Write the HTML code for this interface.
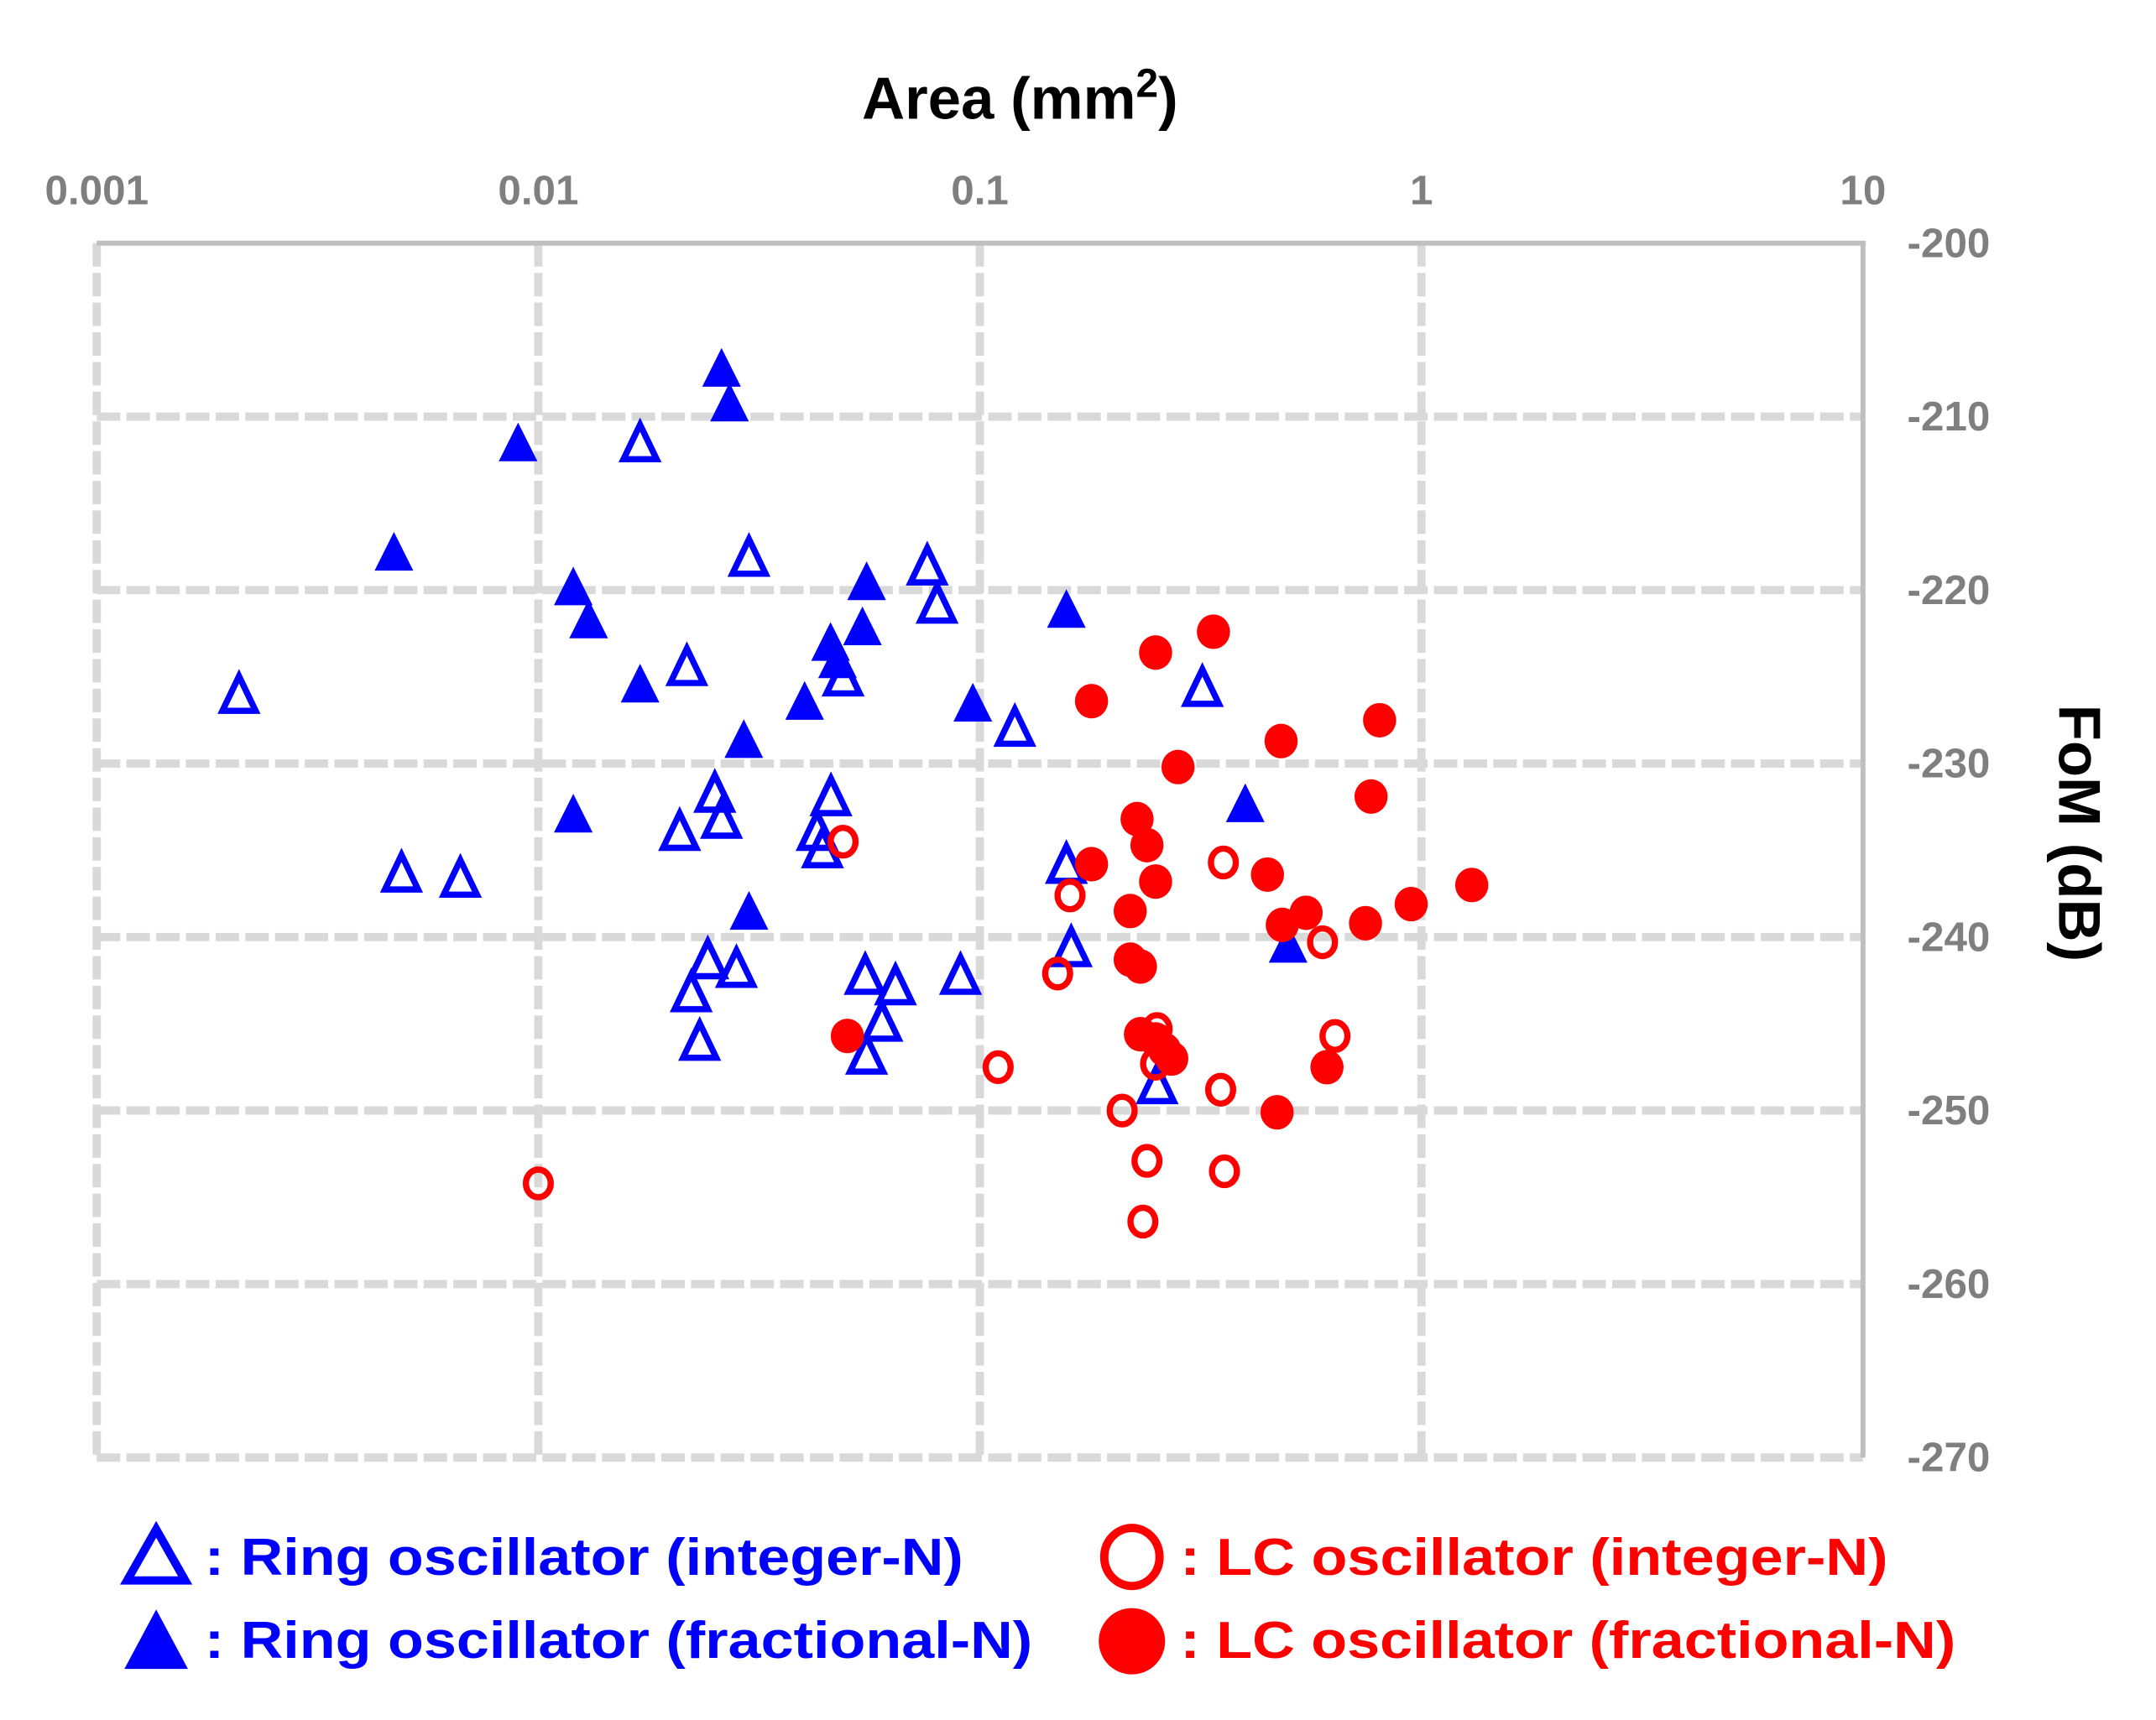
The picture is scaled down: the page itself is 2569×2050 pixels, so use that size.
<!DOCTYPE html>
<html><head><meta charset="utf-8"><style>
html,body{margin:0;padding:0;background:#fff;}
svg{display:block;}
text{font-family:"Liberation Sans",Arial,sans-serif;font-weight:bold;}
</style></head><body>
<svg id="chart" width="2569" height="2050" viewBox="0 0 1560 1245" preserveAspectRatio="none" xmlns="http://www.w3.org/2000/svg">
<g id="grid"></g>
<g id="axes"></g>
<g id="marks"></g>
<text x="738" y="86" text-anchor="middle" font-size="43" fill="#000">Area (mm<tspan font-size="29" dy="-16">2</tspan><tspan dy="16">)</tspan></text>
<text transform="translate(1490,603) rotate(90)" text-anchor="middle" font-size="43" fill="#000">FoM (dB)</text>
<g>
<polygon points="113,1107 92,1144 134,1144" fill="none" stroke="#0000ff" stroke-width="6"/>
<text x="148" y="1140" font-size="38" fill="#0000ff" textLength="549" lengthAdjust="spacingAndGlyphs">: Ring oscillator (integer-N)</text>
<polygon points="113,1165 90,1208 136,1208" fill="#0000ff"/>
<text x="148" y="1200" font-size="38" fill="#0000ff" textLength="599" lengthAdjust="spacingAndGlyphs">: Ring oscillator (fractional-N)</text>
<ellipse cx="819" cy="1127" rx="20" ry="21" fill="none" stroke="#ff0000" stroke-width="6"/>
<text x="854" y="1140" font-size="38" fill="#ff0000" textLength="512" lengthAdjust="spacingAndGlyphs">: LC oscillator (integer-N)</text>
<ellipse cx="819" cy="1188" rx="24" ry="24" fill="#ff0000"/>
<text x="854" y="1200" font-size="38" fill="#ff0000" textLength="561" lengthAdjust="spacingAndGlyphs">: LC oscillator (fractional-N)</text>
</g>
</svg>
<script>
const xTicks = [0.001, 0.01, 0.1, 1, 10];
const xTickLabels = ["0.001", "0.01", "0.1", "1", "10"];
const yTicks = [-200, -210, -220, -230, -240, -250, -260, -270];
const yTickLabels = ["-200", "-210", "-220", "-230", "-240", "-250", "-260", "-270"];

const ringIntArea = [0.0021,0.017,0.030,0.076,0.080,0.0217,0.049,0.120,0.319,0.0251,0.046,0.0209,0.026,0.0428,0.044,0.0049,0.00666,0.157,0.161,0.0242,0.0281,0.0222,0.055,0.0644,0.0904,0.060,0.0232,0.0554,0.252];
const ringIntFoM  = [-226.0,-211.5,-218.1,-218.6,-220.8,-224.4,-225.0,-227.9,-225.6,-231.7,-231.9,-233.9,-233.2,-233.9,-234.9,-236.3,-236.6,-235.8,-240.6,-241.3,-241.8,-243.2,-242.2,-242.8,-242.2,-244.9,-246.0,-246.8,-248.5];

const ringFracArea = [0.026,0.0271,0.009,0.00471,0.012,0.0130,0.0554,0.0542,0.0459,0.0476,0.157,0.017,0.0401,0.0964,0.0292,0.012,0.399,0.030,0.499];
const ringFracFoM  = [-207.2,-209.2,-211.5,-217.8,-219.8,-221.7,-219.5,-222.1,-223.0,-224.0,-221.1,-225.4,-226.4,-226.5,-228.6,-232.9,-232.3,-238.5,-240.4];

const lcIntArea = [0.049,0.356,0.160,0.597,0.150,0.637,0.252,0.110,0.250,0.351,0.210,0.239,0.358,0.234,0.010];
const lcIntFoM  = [-234.5,-235.7,-237.6,-240.3,-242.1,-245.7,-245.3,-247.5,-247.3,-248.8,-250.0,-252.9,-253.5,-256.4,-254.2];

const lcFracArea = [0.338,0.250,0.179,0.804,0.481,0.281,0.769,0.227,0.239,0.179,0.250,0.448,1.30,0.948,0.219,0.548,0.747,0.484,0.219,0.231,0.0501,0.231,0.250,0.262,0.272,0.611,0.471];
const lcFracFoM  = [-222.4,-223.6,-226.4,-227.5,-228.7,-230.2,-231.9,-233.2,-234.7,-235.8,-236.8,-236.4,-237.0,-238.1,-238.5,-238.6,-239.2,-239.3,-241.3,-241.7,-245.7,-245.6,-245.9,-246.5,-247.0,-247.5,-250.1];

const NS = "http://www.w3.org/2000/svg";
const PL = 70, PR = 1348, PT = 176, PB = 1055;
function xs(v){ return PL + (Math.log10(v) + 3) / 4 * (PR - PL); }
function ys(v){ return PT + (-200 - v) / 70 * (PB - PT); }
function mk(tag, attrs, parent){ const e = document.createElementNS(NS, tag); for (const k in attrs) e.setAttribute(k, attrs[k]); parent.appendChild(e); return e; }

const gridG = document.getElementById('grid');
const axesG = document.getElementById('axes');
const marksG = document.getElementById('marks');
const dash = {stroke:"#d9d9d9","stroke-width":"6","stroke-dasharray":"17 4.5",fill:"none"};

xTicks.forEach((t, i) => {
  const x = xs(t);
  if (i < xTicks.length - 1) {
    const g = mk('line', Object.assign({x1:x, x2:x, y1:PT, y2:PB}, dash), gridG);
    
    
  }
  const tx = mk('text', {x:x, y:148, "text-anchor":"middle", "font-size":"30", fill:"#7f7f7f"}, axesG);
  tx.textContent = xTickLabels[i];
  
  
});
yTicks.forEach((t, i) => {
  const y = ys(t);
  if (i > 0) {
    const g = mk('line', Object.assign({x1:PL, x2:PR, y1:y, y2:y}, dash), gridG);
    
    
  }
  const tx = mk('text', {x:1410, y:y + 10, "text-anchor":"middle", "font-size":"30", fill:"#7f7f7f"}, axesG);
  tx.textContent = yTickLabels[i];
  
  
});
const topLine = mk('line', {x1:PL, x2:PR + 2, y1:PT, y2:PT, stroke:"#bfbfbf", "stroke-width":"3.6"}, axesG);


const rightLine = mk('line', {x1:PR, x2:PR, y1:PT, y2:PB, stroke:"#bfbfbf", "stroke-width":"3.6"}, axesG);



function tri(x, y, filled){
  const h = filled ? 27 : 24, w = filled ? 28 : 24;
  const pts = `${x},${y - h/2 - 1} ${x - w/2},${y + h/2} ${x + w/2},${y + h/2}`;
  return filled ? {points:pts, fill:"#0000ff"} : {points:pts, fill:"none", stroke:"#0000ff", "stroke-width":"4.5"};
}
ringIntArea.forEach((a, i) => {
  const e = mk('polygon', tri(xs(a), ys(ringIntFoM[i]), false), marksG);
  
  
});
ringFracArea.forEach((a, i) => {
  const e = mk('polygon', tri(xs(a), ys(ringFracFoM[i]), true), marksG);
  
  
});
lcIntArea.forEach((a, i) => {
  const e = mk('ellipse', {cx:xs(a), cy:ys(lcIntFoM[i]), rx:"9", ry:"10", fill:"none", stroke:"#ff0000", "stroke-width":"4.5"}, marksG);
  
  
});
lcFracArea.forEach((a, i) => {
  const e = mk('ellipse', {cx:xs(a), cy:ys(lcFracFoM[i]), rx:"12", ry:"12.5", fill:"#ff0000"}, marksG);
  
  
});
</script>
</body></html>
